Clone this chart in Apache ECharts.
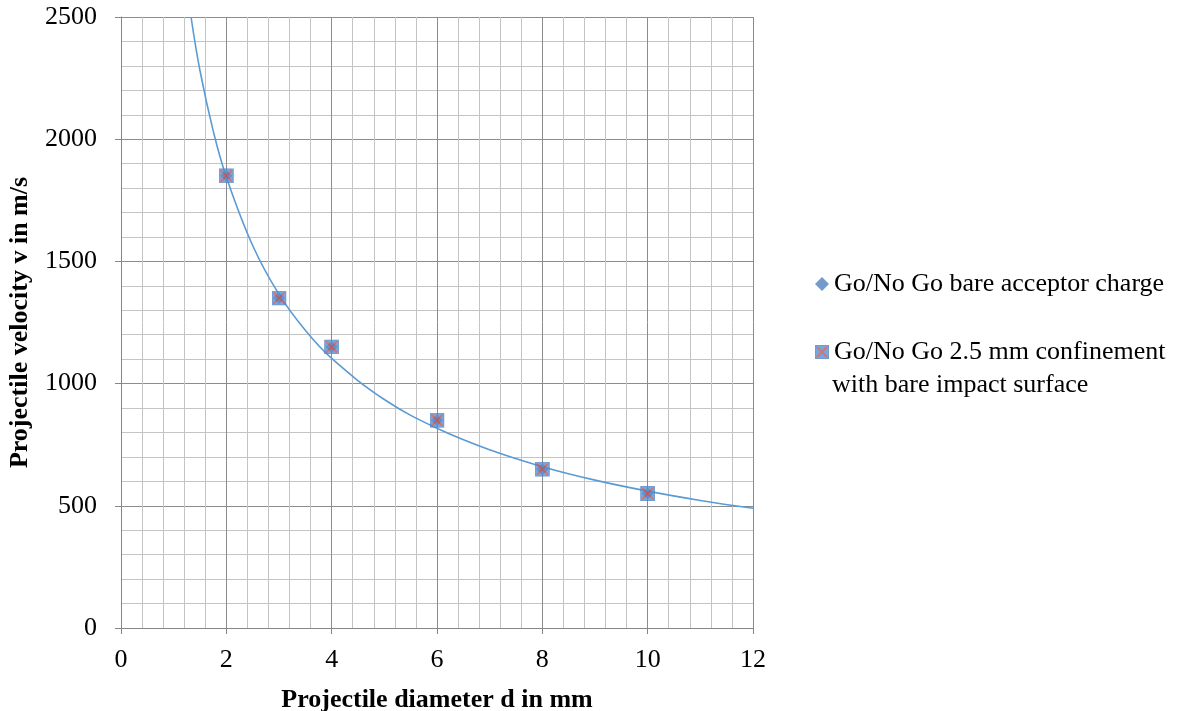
<!DOCTYPE html>
<html><head><meta charset="utf-8">
<script src="https://cdn.jsdelivr.net/npm/echarts@6/dist/echarts.min.js"></script>
<style>html,body{margin:0;padding:0;background:#fff}#c{width:1188px;height:711px}</style>
</head><body><div id="c"></div>
<script>
// measured points (projectile diameter in mm, velocity in m/s)
const diameters = [2, 3, 4, 6, 8, 10];
const bareVel = [1850, 1350, 1150, 850, 650, 550];
const confVel = [1850, 1350, 1150, 850, 650, 550];
// trend curve
const curveD = [1.33, 1.5, 1.75, 2, 2.5, 3, 3.5, 4, 5, 6, 7, 8, 9, 10, 11, 12];
const curveV = [2500, 2280, 2035, 1845, 1565, 1365, 1218, 1103, 935, 817, 729, 660, 605, 560, 522, 490];
const xTicks = [0, 2, 4, 6, 8, 10, 12];
const yTicks = [0, 500, 1000, 1500, 2000, 2500];
const seriesNames = ['Go/No Go bare acceptor charge', 'Go/No Go 2.5 mm confinement'];
const secondLine = 'with bare impact surface';

const sqX = 'image://data:image/svg+xml;utf8,' + encodeURIComponent(
 '<svg xmlns="http://www.w3.org/2000/svg" width="15" height="15" viewBox="0 0 15 15">' +
 '<rect x="0.5" y="0.5" width="14" height="14" fill="#5b90d2" stroke="#4a7fbf" stroke-width="1"/>' +
 '<path d="M2 2 L13 13 M13 2 L2 13" stroke="#c9514c" stroke-width="1.8"/></svg>');

const font = '"Liberation Serif", "Times New Roman", serif';
const FS = 26;
const chart = echarts.init(document.getElementById('c'));
chart.setOption({
  animation: false,
  textStyle: { fontFamily: font },
  grid: { left: 121, right: 435, top: 17, bottom: 83, containLabel: false, outerBoundsMode: 'none' },
  legend: [{
    orient: 'vertical', left: 810, top: 266, itemWidth: 14, itemHeight: 14, itemGap: 42,
    data: [{ name: seriesNames[0], icon: 'diamond', itemStyle: { color: '#4f81bd' } },
           { name: seriesNames[1], icon: sqX }],
    textStyle: { fontFamily: font, fontSize: FS, color: '#000' },
    selectedMode: false
  }],
  graphic: [{ type: 'text', left: 832, top: 372, style: { text: secondLine, font: FS + 'px ' + font, fill: '#000' } }],
  xAxis: {
    type: 'value', min: 0, max: 12, interval: 2,
    name: 'Projectile diameter d in mm', nameLocation: 'middle', nameGap: 59,
    nameTextStyle: { fontFamily: font, fontSize: FS, fontWeight: 'bold', color: '#000' },
    axisLine: { show: true, lineStyle: { color: '#868686', width: 1 } },
    axisTick: { show: true, inside: false, length: 6, lineStyle: { color: '#868686' } },
    axisLabel: { fontFamily: font, fontSize: FS, color: '#000', margin: 19,
      formatter: v => xTicks.includes(v) ? String(v) : '' },
    splitLine: { show: true, lineStyle: { color: '#8c8c8c', width: 1 } },
    minorTick: { show: false, splitNumber: 5 },
    minorSplitLine: { show: true, lineStyle: { color: '#c4c4c4', width: 1 } }
  },
  yAxis: {
    type: 'value', min: 0, max: 2500, interval: 500,
    name: 'Projectile velocity v in m/s', nameLocation: 'middle', nameGap: 88,
    nameTextStyle: { fontFamily: font, fontSize: FS, fontWeight: 'bold', color: '#000' },
    axisLine: { show: true, lineStyle: { color: '#868686', width: 1 } },
    axisTick: { show: true, inside: false, length: 6, lineStyle: { color: '#868686' } },
    axisLabel: { fontFamily: font, fontSize: FS, color: '#000', margin: 24,
      formatter: v => yTicks.includes(v) ? String(v) : '' },
    splitLine: { show: true, lineStyle: { color: '#8c8c8c', width: 1 } },
    minorTick: { show: false, splitNumber: 5 },
    minorSplitLine: { show: true, lineStyle: { color: '#c4c4c4', width: 1 } }
  },
  series: [
    { name: 'trend', type: 'line', smooth: 0.4, showSymbol: false, silent: true,
      lineStyle: { color: '#5b9bd5', width: 1.6 },
      data: curveD.map((d, i) => [d, curveV[i]]), z: 2 },
    { name: seriesNames[0], type: 'scatter', symbol: 'diamond', symbolSize: 12,
      itemStyle: { color: '#4f81bd' }, data: diameters.map((d, i) => [d, bareVel[i]]), z: 3 },
    { name: seriesNames[1], type: 'scatter', symbol: sqX, symbolSize: 15,
      data: diameters.map((d, i) => [d, confVel[i]]), z: 4 }
  ]
});
</script></body></html>
